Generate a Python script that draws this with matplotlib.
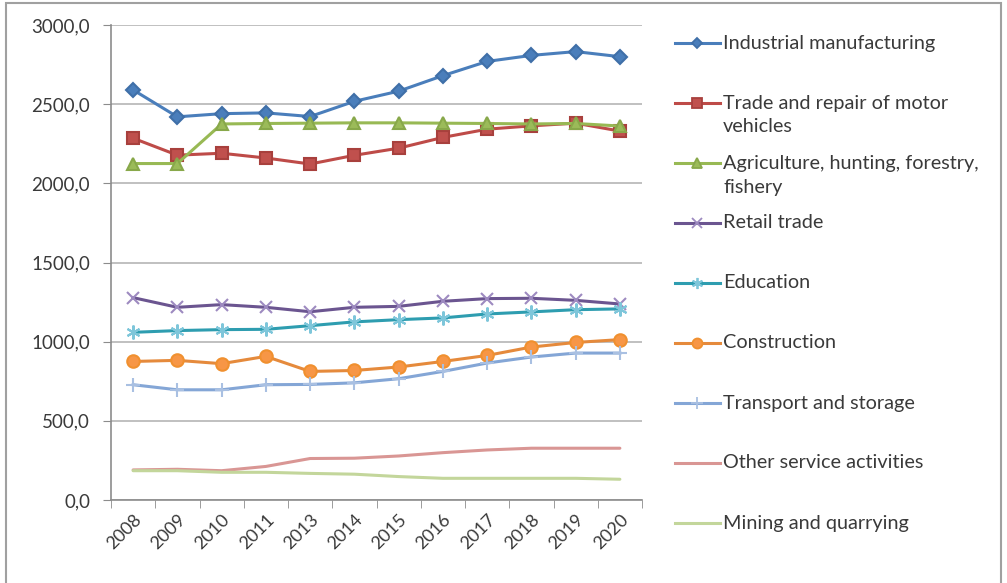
import matplotlib
matplotlib.use("Agg")
import matplotlib.pyplot as plt
from matplotlib.ticker import FuncFormatter, MultipleLocator, FixedLocator
from matplotlib.patches import Rectangle

plt.rcParams['font.family'] = ['Lato', 'DejaVu Sans']

years = ['2008', '2009', '2010', '2011', '2013', '2014', '2015', '2016',
         '2017', '2018', '2019', '2020']

industrial = [2590, 2420, 2440, 2445, 2422, 2518, 2582, 2680, 2770, 2808, 2832, 2800]
trade_motor = [2285, 2178, 2190, 2160, 2122, 2177, 2222, 2290, 2342, 2363, 2380, 2330]
agriculture = [2125, 2125, 2375, 2378, 2380, 2382, 2382, 2380, 2378, 2375, 2378, 2362]
retail = [1278, 1217, 1234, 1217, 1189, 1217, 1223, 1255, 1272, 1274, 1261, 1238]
education = [1059, 1070, 1076, 1078, 1101, 1125, 1139, 1150, 1175, 1188, 1202, 1207]
construction = [875, 882, 861, 907, 812, 818, 840, 875, 913, 966, 995, 1013]
transport = [728, 696, 696, 728, 730, 740, 766, 812, 865, 903, 928, 928]
other_services = [190, 194, 185, 212, 262, 264, 278, 299, 316, 327, 327, 327]
mining = [185, 185, 175, 175, 168, 163, 148, 137, 137, 137, 137, 131]

labels = ['Industrial manufacturing',
          'Trade and repair of motor\nvehicles',
          'Agriculture, hunting, forestry,\nfishery',
          'Retail trade',
          'Education',
          'Construction',
          'Transport and storage',
          'Other service activities',
          'Mining and quarrying']

series = [industrial, trade_motor, agriculture, retail, education,
          construction, transport, other_services, mining]

# line colour, marker, marker size, marker face colour, marker edge colour
styles = [
    ('#4a7ebb', 'D', 7, '#4a7ebb', '#3f6fa8'),
    ('#be4b48', 's', 9, '#c0504d', '#a8403d'),
    ('#98b954', '^', 9, '#9bbb59', '#88a84a'),
    ('#6b5590', 'x', 9, '#9d8ac0', '#9d8ac0'),
    ('#2e9db0', (6, 2, 0), 10, '#7ec6da', '#7ec6da'),
    ('#e58a3c', 'o', 9, '#f79646', '#f0902f'),
    ('#84a6d6', '+', 10, '#a9c0e2', '#a9c0e2'),
    ('#d99694', None, 0, None, None),
    ('#c3d69b', None, 0, None, None),
]

W, H = 1007, 583
TEXT = '#3a3a3a'
fig = plt.figure(figsize=(W / 100, H / 100), dpi=100)
fig.patch.set_facecolor('white')

# chart frame
fig.add_artist(Rectangle((6 / W, -0.05), 995 / W, 1.05 - 3 / H,
                         transform=fig.transFigure, fill=False,
                         edgecolor='#a0a0a0', linewidth=1.5))

ax = fig.add_axes([111 / W, 1 - 500 / H, (642 - 111) / W, (500 - 25) / H])
x = list(range(len(years)))

for vals, (lc, mk, ms, mfc, mec) in zip(series, styles):
    if mk is None:
        ax.plot(x, vals, color=lc, linewidth=2.2, solid_capstyle='round')
    else:
        ax.plot(x, vals, color=lc, linewidth=2.2, marker=mk, markersize=ms,
                markerfacecolor=mfc, markeredgecolor=mec, markeredgewidth=1.5)

ax.set_xlim(-0.5, len(years) - 0.5)
ax.set_ylim(0, 3000)
ax.yaxis.set_major_locator(MultipleLocator(500))
ax.yaxis.set_major_formatter(FuncFormatter(lambda v, p: f"{v:.1f}".replace('.', ',')))
ax.set_xticks(x)
ax.set_xticklabels(years, rotation=45, ha='right', va='top', rotation_mode='anchor')
ax.xaxis.set_minor_locator(FixedLocator([i - 0.5 for i in range(len(years) + 1)]))
ax.tick_params(axis='x', which='major', length=0, pad=8, labelsize=13, labelcolor=TEXT)
ax.tick_params(axis='x', which='minor', length=6, color='#8c8c8c', direction='out')
ax.tick_params(axis='y', length=6, color='#8c8c8c', pad=9, labelsize=13.5, labelcolor=TEXT)

ax.grid(axis='y', color='#b5b5b5', linewidth=1.2)
ax.set_axisbelow(True)
for s in ('top', 'right'):
    ax.spines[s].set_visible(False)
for s in ('left', 'bottom'):
    ax.spines[s].set_color('#8c8c8c')
    ax.spines[s].set_linewidth(1.2)

# legend drawn in pixel space on the right
lax = fig.add_axes([0, 0, 1, 1])
lax.set_xlim(0, W)
lax.set_ylim(H, 0)
lax.axis('off')
for i, (lab, (lc, mk, ms, mfc, mec)) in enumerate(zip(labels, styles)):
    y = 43 + 60 * i
    lax.plot([675, 720], [y, y], color=lc, linewidth=2.2)
    if mk is not None:
        lax.plot([697], [y], color=lc, marker=mk, markersize=ms * 0.8,
                 markerfacecolor=mfc, markeredgecolor=mec, markeredgewidth=1.3)
    for k, line in enumerate(lab.split('\n')):
        lax.text(723, y + 24 * k, line, ha='left', va='center',
                 fontsize=14.3, color=TEXT)

fig.savefig('out.png', dpi=100)
